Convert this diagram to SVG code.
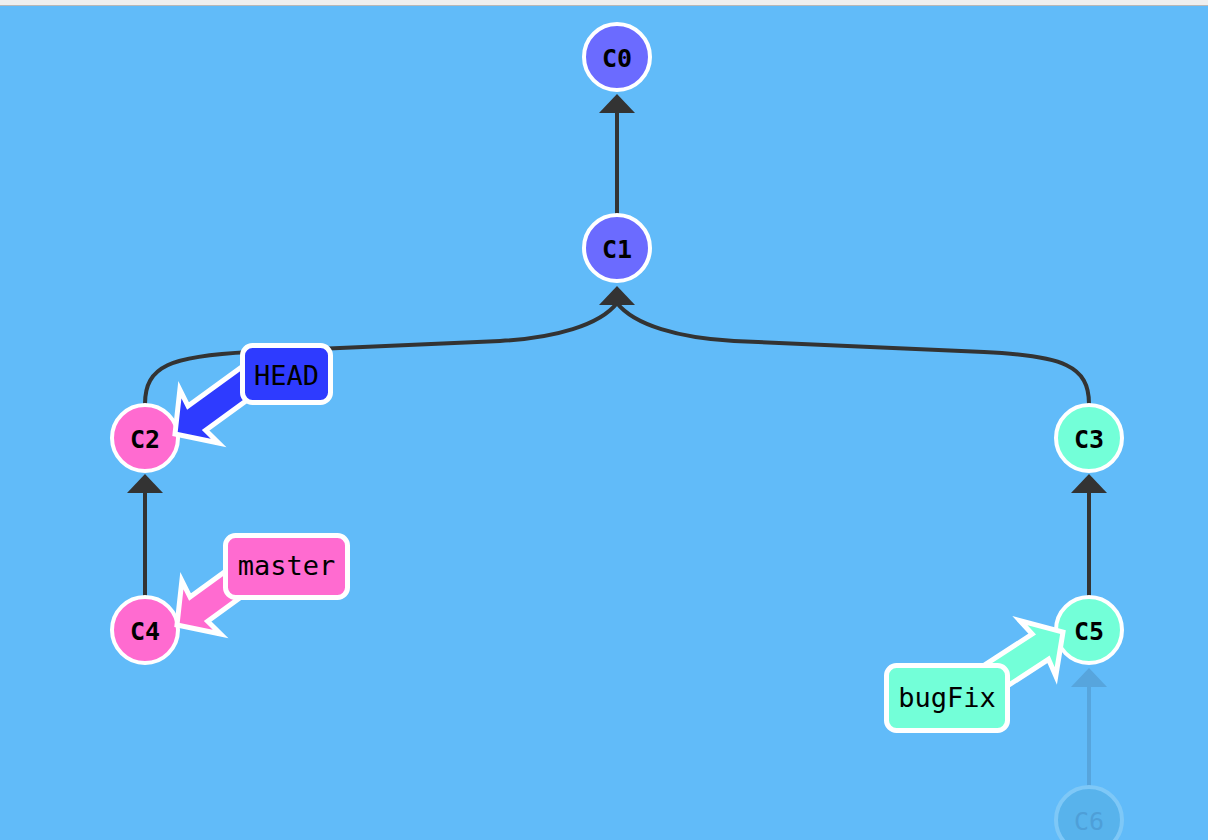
<svg xmlns="http://www.w3.org/2000/svg" width="1208" height="840" viewBox="0 0 1208 840">
<style>
.bg{fill:#61bbf9}
.edge{fill:none;stroke:#333333;stroke-width:4}
.ah{fill:#333333}
.node{stroke:#ffffff;stroke-width:4}
.nt{font-family:"DejaVu Sans Mono","Liberation Mono",monospace;font-size:25px;font-weight:bold;text-anchor:middle;dominant-baseline:central;fill:#000000}
.lt{font-family:"DejaVu Sans Mono","Liberation Mono",monospace;font-size:27px;text-anchor:middle;dominant-baseline:central;fill:#000000}
.lbl{stroke:#ffffff;stroke-width:5}
.arr{stroke:#ffffff;stroke-width:5;stroke-linejoin:miter}
.purple{fill:#6b6bff}
.pink{fill:#ff6bd0}
.aqua{fill:#73ffd8}
.head{fill:#2e3bff}
</style>
<rect class="bg" x="0" y="0" width="1208" height="840"/>
<rect x="0" y="0" width="1208" height="5" fill="#efefef"/>
<rect x="0" y="5" width="1208" height="1" fill="#b8b8b8"/>

<g id="connectors">
  <line class="edge" x1="617" y1="214" x2="617" y2="110"/>
  <polygon class="ah" points="617,94 599,113 635,113"/>
  <path class="edge" d="M145,404 C145,366 170,356 250,352 L500,341 C555,338 600,325 617,303"/>
  <path class="edge" d="M1089,404 C1089,366 1064,356 984,352 L734,341 C679,338 634,325 617,303"/>
  <polygon class="ah" points="617,286 599,305 635,305"/>
  <line class="edge" x1="145" y1="597" x2="145" y2="490"/>
  <polygon class="ah" points="145,474 127,493 163,493"/>
  <line class="edge" x1="1089" y1="597" x2="1089" y2="490"/>
  <polygon class="ah" points="1089,474 1071,493 1107,493"/>
  <line x1="1089" y1="787" x2="1089" y2="684" stroke="#57a5dd" stroke-width="4"/>
  <polygon points="1089,668 1071,687 1107,687" fill="#57a5dd"/>
</g>

<g id="C0"><circle class="node purple" cx="617" cy="57" r="33"/><text class="nt" x="617" y="58">C0</text></g>
<g id="C1"><circle class="node purple" cx="617" cy="248" r="33"/><text class="nt" x="617" y="249">C1</text></g>
<g id="C2"><circle class="node pink" cx="145" cy="438" r="33"/><text class="nt" x="145" y="439">C2</text></g>
<g id="C3"><circle class="node aqua" cx="1089" cy="438" r="33"/><text class="nt" x="1089" y="439">C3</text></g>
<g id="C4"><circle class="node pink" cx="145" cy="630" r="33"/><text class="nt" x="145" y="631">C4</text></g>
<g id="C5"><circle class="node aqua" cx="1089" cy="630" r="33"/><text class="nt" x="1089" y="631">C5</text></g>
<g id="C6"><circle cx="1089" cy="820" r="33" fill="#58b3ec" stroke="#7ec8f7" stroke-width="4"/><text class="nt" x="1089" y="821" style="fill:#4e9fd8;font-weight:normal">C6</text></g>

<g id="HEAD">
  <polygon class="arr head" points="0,0 30,-33 27,-15 125,-15 125,15 27,15 30,33" transform="translate(175,434) rotate(-36)"/>
  <rect class="lbl head" x="242.5" y="345.5" width="88" height="57" rx="10"/>
  <text class="lt" x="286.5" y="375">HEAD</text>
</g>
<g id="master">
  <polygon class="arr pink" points="0,0 30,-33 27,-15 125,-15 125,15 27,15 30,33" transform="translate(177,625) rotate(-36)"/>
  <rect class="lbl pink" x="225.5" y="535.5" width="122" height="62" rx="10"/>
  <text class="lt" x="286.5" y="565">master</text>
</g>
<g id="bugFix">
  <polygon class="arr aqua" points="0,0 30,-33 27,-15 125,-15 125,15 27,15 30,33" transform="translate(1063,632) rotate(147)"/>
  <rect class="lbl aqua" x="886.5" y="665.5" width="121" height="65" rx="10"/>
  <text class="lt" x="947" y="697">bugFix</text>
</g>
</svg>
